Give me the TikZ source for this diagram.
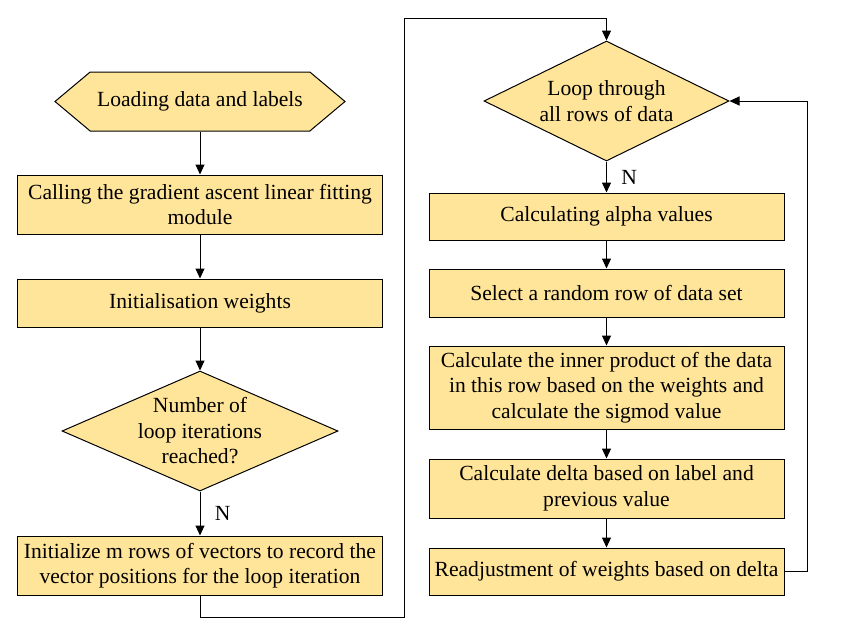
\documentclass[tikz,border=0pt]{standalone}
\usepackage{fontspec}
\setmainfont{Liberation Serif}
\usepackage{tikz}
\usetikzlibrary{arrows.meta,shapes.geometric,shapes.symbols,positioning}
\definecolor{boxfill}{RGB}{255, 229, 153}

\begin{document}
\begin{tikzpicture}[x=1pt, y=-1pt, font=\fontsize{21.6}{25.5}\selectfont,
    procbox/.style={draw, line width=1pt, fill=boxfill, align=center, inner sep=2pt},
    decision/.style={draw, line width=1pt, fill=boxfill, shape=diamond, inner sep=0pt},
    flow/.style={line width=1pt, -{Triangle[length=10pt, width=9pt]}}]
    \useasboundingbox (0,0) rectangle (850,635);

    % Left column
    \node[draw, line width=1pt, fill=boxfill, shape=signal, signal to=west and east,
          signal pointer angle=80, minimum width=290pt, minimum height=59pt, inner sep=0pt]
          (load) at (200,101.5) {Loading data and labels};
    \node[procbox, minimum width=365pt, minimum height=59pt] (call) at (200,204.5)
          {Calling the gradient ascent linear fitting\\module};
    \node[procbox, minimum width=365pt, minimum height=48pt] (initw) at (200,303)
          {Initialisation weights};
    \node[decision, minimum width=276pt, minimum height=120pt] (iter) at (200,431) {};
    \node[align=center] (itertext) at (iter.center) {Number of\\loop iterations\\reached?};
    \node[procbox, minimum width=365pt, minimum height=59pt] (initm) at (200,565.5)
          {Initialize m rows of vectors to record the\\vector positions for the loop iteration};

    % Right column
    \node[decision, minimum width=245pt, minimum height=120pt] (loop) at (606.5,101) {};
    \node[align=center] (looptext) at (loop.center) {Loop through\\all rows of data};
    \node[procbox, minimum width=355pt, minimum height=47pt] (alpha) at (606.5,216.5)
          {Calculating alpha values};
    \node[procbox, minimum width=355pt, minimum height=48pt] (row) at (606.5,293)
          {Select a random row of data set};
    \node[procbox, minimum width=355pt, minimum height=83pt] (inner) at (606.5,387.5)
          {Calculate the inner product of the data\\in this row based on the weights and\\calculate the sigmod value};
    \node[procbox, minimum width=355pt, minimum height=59pt] (delta) at (606.5,488.5)
          {Calculate delta based on label and\\previous value};
    \node[procbox, minimum width=355pt, minimum height=47pt] (adjust) at (606.5,571.5)
          {Readjustment of weights based on delta};

    % Turning points
    \coordinate (low) at (404,617);
    \coordinate (high) at (404,18);
    \coordinate (back) at (807,101);

    % Connectors
    \draw[flow] (load) -- (call);
    \draw[flow] (call) -- (initw);
    \draw[flow] (initw) -- (iter);
    \draw[flow] (iter) -- node[right=11pt] (n1) {N} (initm);
    \draw[flow] (initm.south) |- (low) -- (high) -| (loop.north);
    \draw[flow] (loop) -- node[right=11pt] (n2) {N} (alpha);
    \draw[flow] (alpha) -- (row);
    \draw[flow] (row) -- (inner);
    \draw[flow] (inner) -- (delta);
    \draw[flow] (delta) -- (adjust);
    \draw[flow] (adjust.east) -| (back) -- (loop.east);
\end{tikzpicture}
\end{document}
